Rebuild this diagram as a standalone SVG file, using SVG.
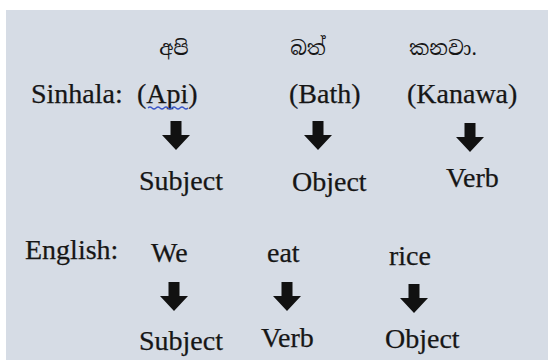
<svg xmlns="http://www.w3.org/2000/svg" width="548" height="360" viewBox="0 0 548 360">
  <defs>
    <style>
      .t { font-family: "Liberation Serif", "Times New Roman", serif; font-size: 28px; fill: #161616; stroke: #161616; stroke-width: 0.25px; }
      .si { font-family: "Noto Serif Sinhala", "Noto Sans Sinhala", "Iskoola Pota", "Noto Sans", sans-serif; font-size: 20px; fill: #161616; }
      .arrow { fill: #111; }
    </style>
    <!-- block down-arrow, origin at top centre of the stem -->
    <path id="down" class="arrow" d="M -5.5 0 H 5.5 V 14 H 14 L 0 29 L -14 14 H -5.5 Z"/>
  </defs>

  <rect x="0" y="0" width="548" height="360" fill="#ffffff"/>
  <rect x="6" y="10" width="542" height="350" fill="#d6dce5"/>

  <!-- Sinhala sentence -->
  <g id="sinhala-row">
    <text class="t" x="31" y="103">Sinhala:</text>
  </g>
  <g id="si-api">
    <text class="si" x="174" y="55" text-anchor="middle">අපි</text>
    <text class="t" x="137" y="103">(Api)</text>
    <path d="M 148 108 q 2 -2 4 0 t 4 0 t 4 0 t 4 0 t 4 0 t 4 0 t 4 0 t 4 0 t 4 0 t 4 0" fill="none" stroke="#3a56c8" stroke-width="1.2"/>
  </g>
  <g id="si-bath">
    <text class="si" x="308" y="55" text-anchor="middle">බත්</text>
    <text class="t" x="289" y="103">(Bath)</text>
  </g>
  <g id="si-kanawa">
    <text class="si" x="443" y="55" text-anchor="middle">කනවා.</text>
    <text class="t" x="407" y="103">(Kanawa)</text>
  </g>

  <g id="si-roles">
    <text class="t" x="139" y="190">Subject</text>
    <text class="t" x="292" y="191">Object</text>
    <text class="t" x="446" y="187">Verb</text>
  </g>

  <!-- English sentence -->
  <g id="english-row">
    <text class="t" x="25" y="259">English:</text>
  </g>
  <g id="en-we">
    <text class="t" x="151" y="262">We</text>
  </g>
  <g id="en-eat">
    <text class="t" x="267" y="262">eat</text>
  </g>
  <g id="en-rice">
    <text class="t" x="389" y="265">rice</text>
  </g>

  <g id="en-roles">
    <text class="t" x="139" y="350">Subject</text>
    <text class="t" x="261" y="347">Verb</text>
    <text class="t" x="385" y="348">Object</text>
  </g>

  <!-- connectors -->
  <g id="connectors">
    <use href="#down" x="176" y="121"/>
    <use href="#down" x="318" y="121"/>
    <use href="#down" x="470" y="123"/>
    <use href="#down" x="174" y="282"/>
    <use href="#down" x="287" y="282"/>
    <use href="#down" x="414" y="284"/>
  </g>
</svg>
